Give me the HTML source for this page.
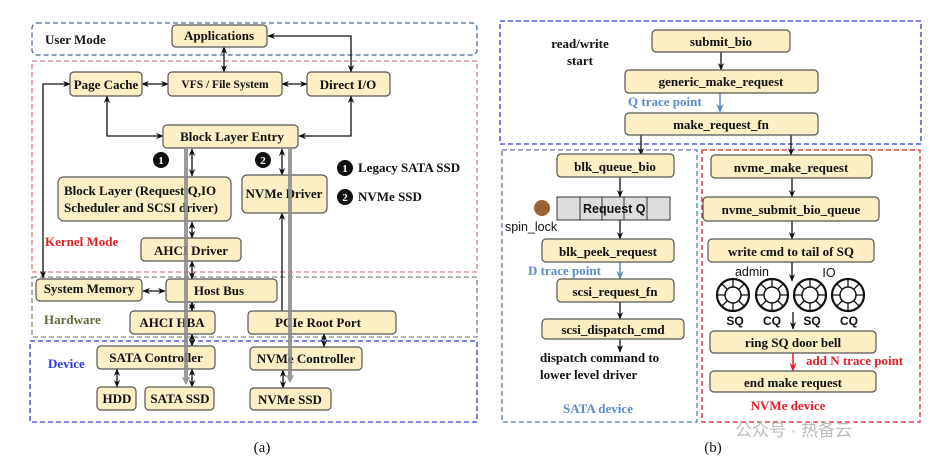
<!DOCTYPE html>
<html><head><meta charset="utf-8"><style>
html,body{margin:0;padding:0;background:#fff;width:951px;height:464px;overflow:hidden}
text{font-family:"Liberation Serif",serif;font-weight:bold;font-size:13px;fill:#111}
.b{fill:#fcefc4;stroke:#555;stroke-width:1.2}
.l{stroke:#111;stroke-width:1.3;fill:none}
.g{stroke:#8a8a8a;stroke-width:4;fill:none;opacity:.85}
.s{font-family:"Liberation Sans",sans-serif;font-weight:normal}
</style></head><body>
<svg width="951" height="464" viewBox="0 0 951 464" xmlns="http://www.w3.org/2000/svg">
<defs>
<marker id="a" viewBox="0 0 10 10" refX="9" refY="5" markerWidth="6" markerHeight="6" orient="auto-start-reverse"><path d="M0,1 L10,5 L0,9 L3,5z" fill="#111"/></marker>
<marker id="ab" viewBox="0 0 10 10" refX="9" refY="5" markerWidth="6" markerHeight="6" orient="auto"><path d="M0,1 L10,5 L0,9 L3,5z" fill="#5b8ac6"/></marker>
<marker id="ar" viewBox="0 0 10 10" refX="9" refY="5" markerWidth="6" markerHeight="6" orient="auto"><path d="M0,1 L10,5 L0,9 L3,5z" fill="#e0202a"/></marker>
<marker id="ag" viewBox="0 0 10 10" refX="6" refY="5" markerWidth="8" markerHeight="8" markerUnits="userSpaceOnUse" orient="auto"><path d="M0,0 L10,5 L0,10z" fill="#8a8a8a"/></marker>
</defs>
<rect x="32" y="23" width="445" height="32" rx="5" fill="none" stroke="#4a6a94" stroke-width="1.3" stroke-dasharray="5,3"/>
<rect x="32" y="61" width="445" height="211" fill="none" stroke="#c86060" stroke-width="1.1" stroke-dasharray="5,3"/>
<rect x="32" y="277" width="445" height="60" fill="none" stroke="#6a7050" stroke-width="1.1" stroke-dasharray="5,3"/>
<rect x="30" y="341" width="447" height="81" fill="none" stroke="#2a3ae0" stroke-width="1.3" stroke-dasharray="5,3"/>
<text x="45" y="44">User Mode</text>
<text x="45" y="246" style="fill:#e51c23">Kernel Mode</text>
<text x="44" y="324" style="fill:#5a6a3a">Hardware</text>
<text x="48" y="368" style="fill:#2a3ae0">Device</text>
<path class="l" d="M224,47 V72" marker-start="url(#a)" marker-end="url(#a)"/>
<path class="l" d="M268,36 H351 V72" marker-start="url(#a)" marker-end="url(#a)"/>
<path class="l" d="M142,84 H168" marker-start="url(#a)" marker-end="url(#a)"/>
<path class="l" d="M282,84 H307" marker-start="url(#a)" marker-end="url(#a)"/>
<path class="l" d="M107,96 V136 H163" marker-start="url(#a)" marker-end="url(#a)"/>
<path class="l" d="M351,96 V136 H299" marker-start="url(#a)" marker-end="url(#a)"/>
<path class="l" d="M70,84 H43 V278" marker-start="url(#a)" marker-end="url(#a)"/>
<path class="l" d="M192,149 V176" marker-start="url(#a)" marker-end="url(#a)"/>
<path class="l" d="M282,149 V175" marker-start="url(#a)" marker-end="url(#a)"/>
<path class="l" d="M192,222 V238" marker-start="url(#a)" marker-end="url(#a)"/>
<path class="l" d="M192,261 V279" marker-start="url(#a)" marker-end="url(#a)"/>
<path class="l" d="M143,291 H165" marker-start="url(#a)" marker-end="url(#a)"/>
<path class="l" d="M192,302 V311" marker-start="url(#a)" marker-end="url(#a)"/>
<path class="l" d="M192,334 V346" marker-start="url(#a)" marker-end="url(#a)"/>
<path class="l" d="M282,213 V311" marker-start="url(#a)"/>
<path class="l" d="M324,334 V347" marker-start="url(#a)" marker-end="url(#a)"/>
<path class="l" d="M117,369 V387" marker-start="url(#a)" marker-end="url(#a)"/>
<path class="l" d="M192,369 V387" marker-start="url(#a)" marker-end="url(#a)"/>
<path class="l" d="M283,370 V388" marker-start="url(#a)" marker-end="url(#a)"/>
<rect class="b" x="172" y="25" width="95" height="22" rx="4"/><text x="219" y="40" text-anchor="middle">Applications</text>
<rect class="b" x="70" y="72" width="72" height="24" rx="4"/><text x="106" y="89" text-anchor="middle">Page Cache</text>
<rect class="b" x="168" y="72" width="114" height="24" rx="4"/><text x="225" y="88" text-anchor="middle" style="font-size:11.5px">VFS / File System</text>
<rect class="b" x="307" y="72" width="83" height="24" rx="4"/><text x="348" y="89" text-anchor="middle">Direct I/O</text>
<rect class="b" x="163" y="125" width="135" height="23" rx="4"/><text x="232" y="141" text-anchor="middle">Block Layer Entry</text>
<rect class="b" x="58" y="177" width="173" height="44" rx="6"/><text x="64" y="195">Block Layer (Request Q,IO</text><text x="64" y="212">Scheduler and SCSI driver)</text>
<rect class="b" x="242" y="175" width="85" height="38" rx="5"/><text x="284" y="198" text-anchor="middle">NVMe Driver</text>
<rect class="b" x="141" y="238" width="100" height="23" rx="4"/><text x="191" y="255" text-anchor="middle">AHCI Driver</text>
<rect class="b" x="36" y="279" width="106" height="22" rx="4"/><text x="89" y="293" text-anchor="middle">System Memory</text>
<rect class="b" x="166" y="279" width="111" height="23" rx="4"/><text x="219" y="295" text-anchor="middle">Host Bus</text>
<rect class="b" x="130" y="311" width="85" height="23" rx="4"/><text x="172" y="327" text-anchor="middle">AHCI HBA</text>
<rect class="b" x="248" y="311" width="148" height="23" rx="4"/><text x="318" y="327" text-anchor="middle">PCIe Root Port</text>
<rect class="b" x="97" y="346" width="118" height="23" rx="4"/><text x="156" y="362" text-anchor="middle">SATA Controller</text>
<rect class="b" x="250" y="347" width="112" height="23" rx="4"/><text x="306" y="363" text-anchor="middle">NVMe Controller</text>
<rect class="b" x="97" y="387" width="39" height="23" rx="4"/><text x="117" y="403" text-anchor="middle">HDD</text>
<rect class="b" x="145" y="387" width="69" height="23" rx="4"/><text x="180" y="403" text-anchor="middle">SATA SSD</text>
<rect class="b" x="250" y="388" width="81" height="22" rx="4"/><text x="290" y="404" text-anchor="middle">NVMe SSD</text>
<path class="g" d="M186,149 V382" marker-end="url(#ag)"/>
<path class="g" d="M290,149 V380" marker-end="url(#ag)"/>
<circle cx="161" cy="160" r="8" fill="#111"/><text x="161" y="164" text-anchor="middle" style="fill:#fff;font-size:11px">1</text>
<circle cx="263" cy="160" r="8" fill="#111"/><text x="263" y="164" text-anchor="middle" style="fill:#fff;font-size:11px">2</text>
<circle cx="345" cy="168" r="8" fill="#111"/><text x="345" y="172" text-anchor="middle" style="fill:#fff;font-size:11px">1</text>
<text x="358" y="172">Legacy SATA SSD</text>
<circle cx="345" cy="197" r="8" fill="#111"/><text x="345" y="201" text-anchor="middle" style="fill:#fff;font-size:11px">2</text>
<text x="358" y="201">NVMe SSD</text>
<text x="262" y="452" text-anchor="middle" style="font-weight:normal;font-size:15px">(a)</text>

<rect x="500" y="21" width="421" height="123" fill="none" stroke="#2a3ae0" stroke-width="1.3" stroke-dasharray="5,3"/>
<rect x="502" y="150" width="195" height="272" fill="none" stroke="#5a7aa4" stroke-width="1.3" stroke-dasharray="5,3"/>
<rect x="702" y="150" width="218" height="272" fill="none" stroke="#e0202a" stroke-width="1.3" stroke-dasharray="5,3"/>
<text x="580" y="48" text-anchor="middle">read/write</text><text x="580" y="65" text-anchor="middle">start</text>
<path class="l" d="M721,52 V70" marker-end="url(#a)"/>
<path d="M720,93 V112" stroke="#5b8ac6" stroke-width="1.5" marker-end="url(#ab)"/>
<text x="628" y="106" style="fill:#5b8ac6">Q trace point</text>
<path class="l" d="M641,135 V155" marker-end="url(#a)"/>
<path class="l" d="M791,135 V155" marker-end="url(#a)"/>
<rect class="b" x="652" y="30" width="138" height="22" rx="4"/><text x="721" y="46" text-anchor="middle">submit_bio</text>
<rect class="b" x="625" y="70" width="193" height="23" rx="4"/><text x="721" y="86" text-anchor="middle">generic_make_request</text>
<rect class="b" x="625" y="113" width="193" height="22" rx="4"/><text x="721" y="129" text-anchor="middle">make_request_fn</text>
<path class="l" d="M620,177 V197" marker-end="url(#a)"/>
<path class="l" d="M620,220 V239" marker-end="url(#a)"/>
<path d="M620,262 V279" stroke="#5b8ac6" stroke-width="1.5" marker-end="url(#ab)"/>
<path class="l" d="M620,302 V319" marker-end="url(#a)"/>
<path class="l" d="M620,339 V352" marker-end="url(#a)"/>
<rect class="b" x="557" y="154" width="117" height="23" rx="4"/><text x="615" y="171" text-anchor="middle">blk_queue_bio</text>
<rect x="557" y="197" width="113" height="23" fill="#ddd" stroke="#333"/>
<line x1="580" y1="197" x2="580" y2="220" stroke="#333"/><line x1="602" y1="197" x2="602" y2="220" stroke="#333"/><line x1="624" y1="197" x2="624" y2="220" stroke="#333"/><line x1="647" y1="197" x2="647" y2="220" stroke="#333"/>
<text x="583" y="213" class="s" style="font-weight:bold;font-size:12.5px">Request Q</text>
<circle cx="542" cy="208" r="8" fill="#9a6232"/>
<text x="505" y="231" class="s" style="font-size:12.5px">spin_lock</text>
<rect class="b" x="542" y="239" width="132" height="23" rx="4"/><text x="608" y="256" text-anchor="middle">blk_peek_request</text>
<text x="528" y="275" style="fill:#5b8ac6">D trace point</text>
<rect class="b" x="557" y="279" width="117" height="23" rx="4"/><text x="615" y="296" text-anchor="middle">scsi_request_fn</text>
<rect class="b" x="542" y="319" width="142" height="20" rx="4"/><text x="613" y="334" text-anchor="middle">scsi_dispatch_cmd</text>
<text x="540" y="362">dispatch command to</text><text x="540" y="379">lower level driver</text>
<text x="598" y="413" text-anchor="middle" style="fill:#5b8ac6">SATA device</text>
<path class="l" d="M792,178 V197" marker-end="url(#a)"/>
<path class="l" d="M792,221 V239" marker-end="url(#a)"/>
<path class="l" d="M792,262 V281" marker-end="url(#a)"/>
<path class="l" d="M793,312 V329" marker-end="url(#a)"/>
<path d="M793,353 V371" stroke="#e0202a" stroke-width="1.5" marker-end="url(#ar)"/>
<rect class="b" x="711" y="155" width="161" height="23" rx="4"/><text x="791" y="172" text-anchor="middle">nvme_make_request</text>
<rect class="b" x="703" y="197" width="176" height="24" rx="4"/><text x="791" y="214" text-anchor="middle">nvme_submit_bio_queue</text>
<rect class="b" x="708" y="239" width="166" height="23" rx="4"/><text x="791" y="256" text-anchor="middle">write cmd to tail of SQ</text>
<text x="752" y="276" class="s" text-anchor="middle" style="font-size:12.5px">admin</text>
<text x="829" y="277" class="s" text-anchor="middle" style="font-size:12.5px">IO</text>
<g fill="none" stroke="#111">
<g transform="translate(733,295)"><circle r="16" stroke-width="2.2"/><circle r="8" stroke-width="1.5"/><path d="M0,-16V-8M0,16V8M-16,0H-8M16,0H8M-11,-11L-6,-6M11,11L6,6M-11,11L-6,6M11,-11L6,-6" stroke-width="1.3"/></g>
<g transform="translate(772,295)"><circle r="16" stroke-width="2.2"/><circle r="8" stroke-width="1.5"/><path d="M0,-16V-8M0,16V8M-16,0H-8M16,0H8M-11,-11L-6,-6M11,11L6,6M-11,11L-6,6M11,-11L6,-6" stroke-width="1.3"/></g>
<g transform="translate(810,295)"><circle r="16" stroke-width="2.2"/><circle r="8" stroke-width="1.5"/><path d="M0,-16V-8M0,16V8M-16,0H-8M16,0H8M-11,-11L-6,-6M11,11L6,6M-11,11L-6,6M11,-11L6,-6" stroke-width="1.3"/></g>
<g transform="translate(848,295)"><circle r="16" stroke-width="2.2"/><circle r="8" stroke-width="1.5"/><path d="M0,-16V-8M0,16V8M-16,0H-8M16,0H8M-11,-11L-6,-6M11,11L6,6M-11,11L-6,6M11,-11L6,-6" stroke-width="1.3"/></g>
</g>
<text x="735" y="325" class="s" text-anchor="middle" style="font-weight:bold;font-size:12px">SQ</text>
<text x="772" y="325" class="s" text-anchor="middle" style="font-weight:bold;font-size:12px">CQ</text>
<text x="812" y="325" class="s" text-anchor="middle" style="font-weight:bold;font-size:12px">SQ</text>
<text x="849" y="325" class="s" text-anchor="middle" style="font-weight:bold;font-size:12px">CQ</text>
<rect class="b" x="710" y="331" width="166" height="22" rx="4"/><text x="793" y="347" text-anchor="middle">ring SQ door bell</text>
<text x="806" y="365" style="fill:#e0202a">add N trace point</text>
<rect class="b" x="710" y="371" width="166" height="21" rx="4"/><text x="793" y="387" text-anchor="middle">end make request</text>
<text x="788" y="410" text-anchor="middle" style="fill:#e0202a">NVMe device</text>
<text x="713" y="452" text-anchor="middle" style="font-weight:normal;font-size:15px">(b)</text>
<text x="735" y="436" class="s" style="fill:#bbb;font-family:'Liberation Sans','Noto Sans CJK SC',sans-serif;font-size:17px">公众号 · 热备云</text>
</svg>
</body></html>
